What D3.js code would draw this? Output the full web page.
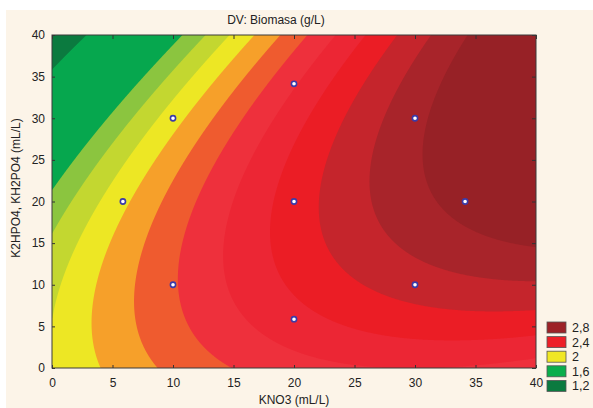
<!DOCTYPE html>
<html>
<head>
<meta charset="utf-8">
<script src="https://cdn.jsdelivr.net/npm/d3@7"></script>
<style>
  body { margin: 0; background: #fff; }
  text { font-family: "Liberation Sans", Arial, sans-serif; fill: #222; }
</style>
</head>
<body>
<div id="chart"></div>
<script>
// fitted response surface (raw units):
// Biomasa = b0 + bx*x + by*y + bxx*x^2 + byy*y^2 + bxy*x*y
var coef = [1.8988, 0.027006, 0.003636, -0.00045309, -0.00060606, 0.00089697];

// contour levels (g/L) and the colour of each band, lowest first
var levels = [1.25, 1.7, 1.8, 1.9, 2.0, 2.1, 2.2, 2.3, 2.4, 2.5, 2.6, 2.7];
var bandColors = ["#0b7a3f", "#06a74e", "#8bc53f", "#c3d730", "#ede724", "#f6a02a",
                  "#ef5b2f", "#ee303c", "#ec2634", "#eb1d25", "#c5252c", "#a8242a", "#972126"];

// design points (central composite design)
var pointX = [10, 10, 30, 30, 5.86, 34.14, 20, 20, 20];
var pointY = [10, 30, 10, 30, 20, 20, 5.86, 34.14, 20];

var xTicks = [0, 5, 10, 15, 20, 25, 30, 35, 40];
var yTicks = [0, 5, 10, 15, 20, 25, 30, 35, 40];

var legendLabels = ["2,8", "2,4", "2", "1,6", "1,2"];
var legendColors = ["#9d2227", "#ed1f27", "#f0e724", "#0aae4c", "#0b7a3f"];

var svgWidth = 593;
var svgHeight = 408;
var margin = { top: 35, right: 57, bottom: 40, left: 52 };
var width = svgWidth - margin.left - margin.right;   // 484
var height = svgHeight - margin.top - margin.bottom; // 333

var svg = d3.select("#chart")
  .append("svg")
  .attr("width", svgWidth)
  .attr("height", svgHeight);

// cream panel
svg.append("rect")
  .attr("x", 6).attr("y", 10)
  .attr("width", svgWidth - 6).attr("height", svgHeight - 10)
  .attr("fill", "#fcf4e8");

var chartGroup = svg.append("g")
  .attr("transform", `translate(${margin.left}, ${margin.top})`);

var x = d3.scaleLinear().domain([0, 40]).range([0, width]);
var y = d3.scaleLinear().domain([0, 40]).range([height, 0]);

// evaluate surface on a grid, one sample per pixel
var n = width, m = height;
var values = new Float64Array(n * m);
for (var j = 0; j < m; j++) {
  var yv = 40 - (j + 0.5) / m * 40;
  for (var i = 0; i < n; i++) {
    var xv = (i + 0.5) / n * 40;
    values[j * n + i] = coef[0] + coef[1] * xv + coef[2] * yv +
      coef[3] * xv * xv + coef[4] * yv * yv + coef[5] * xv * yv;
  }
}

var contours = d3.contours().size([n, m]).thresholds(levels)(values);

var gridPath = d3.geoPath(d3.geoTransform({
  point: function(gx, gy) {
    this.stream.point(x(gx / n * 40), y(40 - gy / m * 40));
  }
}));

chartGroup.append("clipPath").attr("id", "plotClip")
  .append("rect").attr("width", width).attr("height", height);

var surface = chartGroup.append("g").attr("clip-path", "url(#plotClip)");

surface.append("rect")
  .attr("width", width).attr("height", height)
  .attr("fill", bandColors[0]);

surface.selectAll("path")
  .data(contours)
  .enter()
  .append("path")
  .attr("d", gridPath)
  .attr("fill", (d, k) => bandColors[k + 1]);

// axes, ticks pointing inward
var bottomAxis = d3.axisBottom(x).tickValues(xTicks).tickSizeInner(-3).tickSizeOuter(0).tickPadding(10);
var leftAxis = d3.axisLeft(y).tickValues(yTicks).tickSizeInner(-3).tickSizeOuter(0).tickPadding(7);
var topAxis = d3.axisTop(x).tickValues(xTicks).tickSizeInner(-4).tickSizeOuter(0).tickFormat("");
var rightAxis = d3.axisRight(y).tickValues(yTicks).tickSizeInner(-4).tickSizeOuter(0).tickFormat("");

function styleAxis(g) {
  g.select(".domain").remove();
  g.selectAll("line").attr("stroke", "#333");
  g.selectAll("text").style("font-size", "12px").attr("fill", "#222");
}

chartGroup.append("g").attr("transform", `translate(0, ${height})`).call(bottomAxis).call(styleAxis);
chartGroup.append("g").call(leftAxis).call(styleAxis);
chartGroup.append("g").call(topAxis).call(styleAxis);
chartGroup.append("g").attr("transform", `translate(${width}, 0)`).call(rightAxis).call(styleAxis);

chartGroup.append("rect")
  .attr("width", width).attr("height", height)
  .attr("fill", "none")
  .attr("stroke", "#3a3a3a")
  .attr("stroke-width", 1);

// design points
chartGroup.selectAll("circle")
  .data(pointX)
  .enter()
  .append("circle")
  .attr("cx", (d, i) => x(pointX[i]))
  .attr("cy", (d, i) => y(pointY[i]))
  .attr("r", 2.6)
  .attr("fill", "#fff")
  .attr("stroke", "#3b3ba8")
  .attr("stroke-width", 1.6);

// title and axis labels
svg.append("text")
  .attr("x", 276).attr("y", 24)
  .attr("text-anchor", "middle")
  .style("font-size", "12px")
  .text("DV: Biomasa (g/L)");

svg.append("text")
  .attr("transform", "translate(20, 188) rotate(-90)")
  .attr("text-anchor", "middle")
  .style("font-size", "12px")
  .text("K2HPO4, KH2PO4 (mL/L)");

svg.append("text")
  .attr("x", margin.left + width / 2).attr("y", 404)
  .attr("text-anchor", "middle")
  .style("font-size", "12px")
  .text("KNO3 (mL/L)");

// legend
var legend = svg.append("g").attr("transform", "translate(547, 322)");
legend.selectAll("rect")
  .data(legendLabels)
  .enter()
  .append("rect")
  .attr("x", 0)
  .attr("y", (d, i) => i * 14.6)
  .attr("width", 19).attr("height", 11)
  .attr("fill", (d, i) => legendColors[i])
  .attr("stroke", "#555")
  .attr("stroke-width", 0.8);

legend.selectAll("text")
  .data(legendLabels)
  .enter()
  .append("text")
  .attr("x", 25)
  .attr("y", (d, i) => i * 14.6 + 10)
  .style("font-size", "12.5px")
  .text(d => d);
</script>
</body>
</html>
